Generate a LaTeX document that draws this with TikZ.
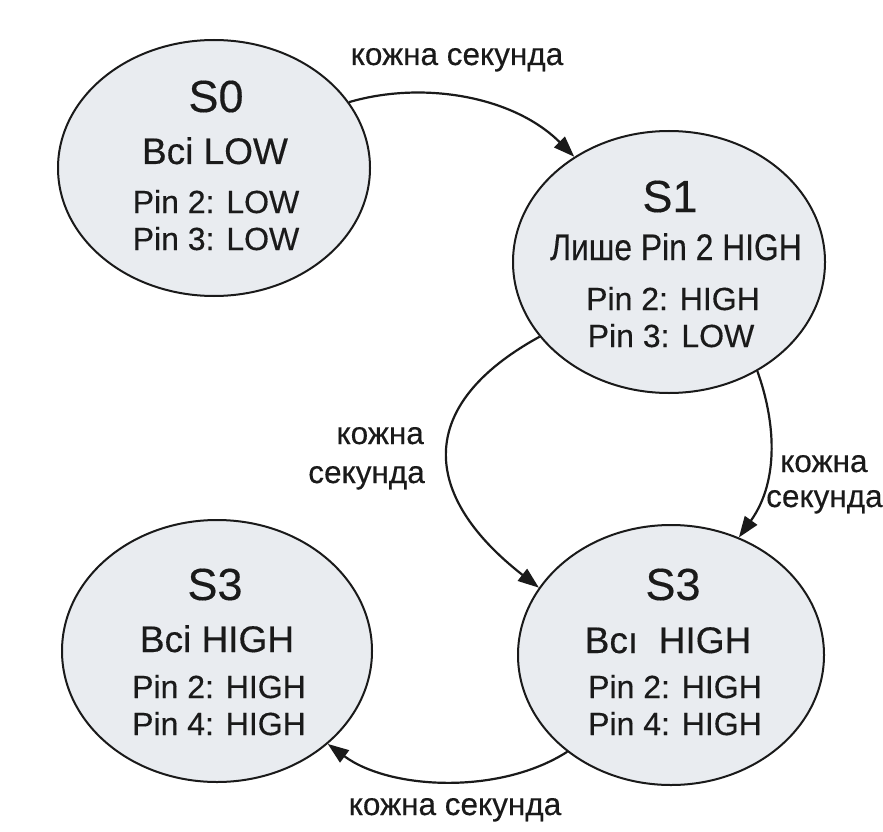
\documentclass[tikz,border=0pt]{standalone}
\usepackage{fontspec}
\setmainfont{Liberation Sans}[FakeBold=0.35]
\usetikzlibrary{shapes.geometric,arrows.meta}
\definecolor{statefill}{HTML}{E9ECF0}
\definecolor{ink}{HTML}{1A1A1A}
\begin{document}
\begin{tikzpicture}[x=1pt,y=-1pt,
  state/.style={ellipse, draw=ink, line width=2pt, fill=statefill, inner sep=0pt},
  ttl/.style={anchor=base, inner sep=0pt, font=\fontsize{45}{50}\selectfont, text=ink},
  sub/.style={anchor=base, inner sep=0pt, font=\fontsize{37}{42}\selectfont, text=ink},
  pin/.style={anchor=base, inner sep=0pt, font=\fontsize{32}{36}\selectfont, text=ink},
  lbl/.style={inner sep=0pt, font=\fontsize{31.5}{40}\selectfont, text=ink},
  arr/.style={draw=ink, line width=2.2pt, -{Triangle[length=21pt,width=15pt]}}]
\useasboundingbox[fill=white] (0,0) rectangle (883,832);

% states
\node[state, minimum width=312pt, minimum height=256pt] (s0) at (214,168) {};
\node[state, minimum width=312pt, minimum height=262pt] (s1) at (669,262) {};
\node[state, minimum width=306pt, minimum height=260pt] (s3r) at (671,655) {};
\node[state, minimum width=310pt, minimum height=262pt] (s3l) at (217,651) {};

% S0 text
\node[ttl] (s0t) at (216,112) {S0};
\node[sub] (s0s) at (215,164) {Всі LOW};
\node[pin] (s0a) at (216,213) {Pin 2: LOW};
\node[pin] (s0b) at (216,250) {Pin 3: LOW};

% S1 text
\node[ttl] (s1t) at (670,212) {S1};
\node[sub] (s1s) at (676,260) {\scalebox{0.86}[1]{Лише Pin 2 HIGH}};
\node[pin] (s1a) at (673,310) {Pin 2: HIGH};
\node[pin] (s1b) at (671,347) {Pin 3: LOW};

% S3 right text
\node[ttl] (s3rt) at (673,600) {S3};
\node[sub] (s3rs) at (668,653) {Всı~ HIGH};
\node[pin] (s3ra) at (675,698) {Pin 2: HIGH};
\node[pin] (s3rb) at (675,735) {Pin 4: HIGH};

% S3 left text
\node[ttl] (s3lt) at (215,600) {S3};
\node[sub] (s3ls) at (217,652) {Всі HIGH};
\node[pin] (s3la) at (219,698) {Pin 2: HIGH};
\node[pin] (s3lb) at (219,735) {Pin 4: HIGH};

% transitions
\draw[arr] (s0.26) .. controls +(75,-22) and +(-60,-60) .. (s1.132);
\draw[arr] (s1.210) .. controls (415,405) and (420,495) .. (s3r.153);
\draw[arr] (s1.309) .. controls (775,420) and (780,480) .. (s3r.60);
\draw[arr] (s3r.223) .. controls (500,795) and (390,790) .. (s3l.320);

% labels
\node[lbl, anchor=base] (l1) at (457,65) {кожна секунда};
\node[lbl, anchor=base east] (l2a) at (424,444) {кожна};
\node[lbl, anchor=base east] (l2b) at (425,483) {секунда};
\node[lbl, anchor=base west] (l3a) at (780,472) {кожна};
\node[lbl, anchor=base west] (l3b) at (766,507) {секунда};
\node[lbl, anchor=base] (l4) at (455,815) {кожна секунда};
\end{tikzpicture}
\end{document}
